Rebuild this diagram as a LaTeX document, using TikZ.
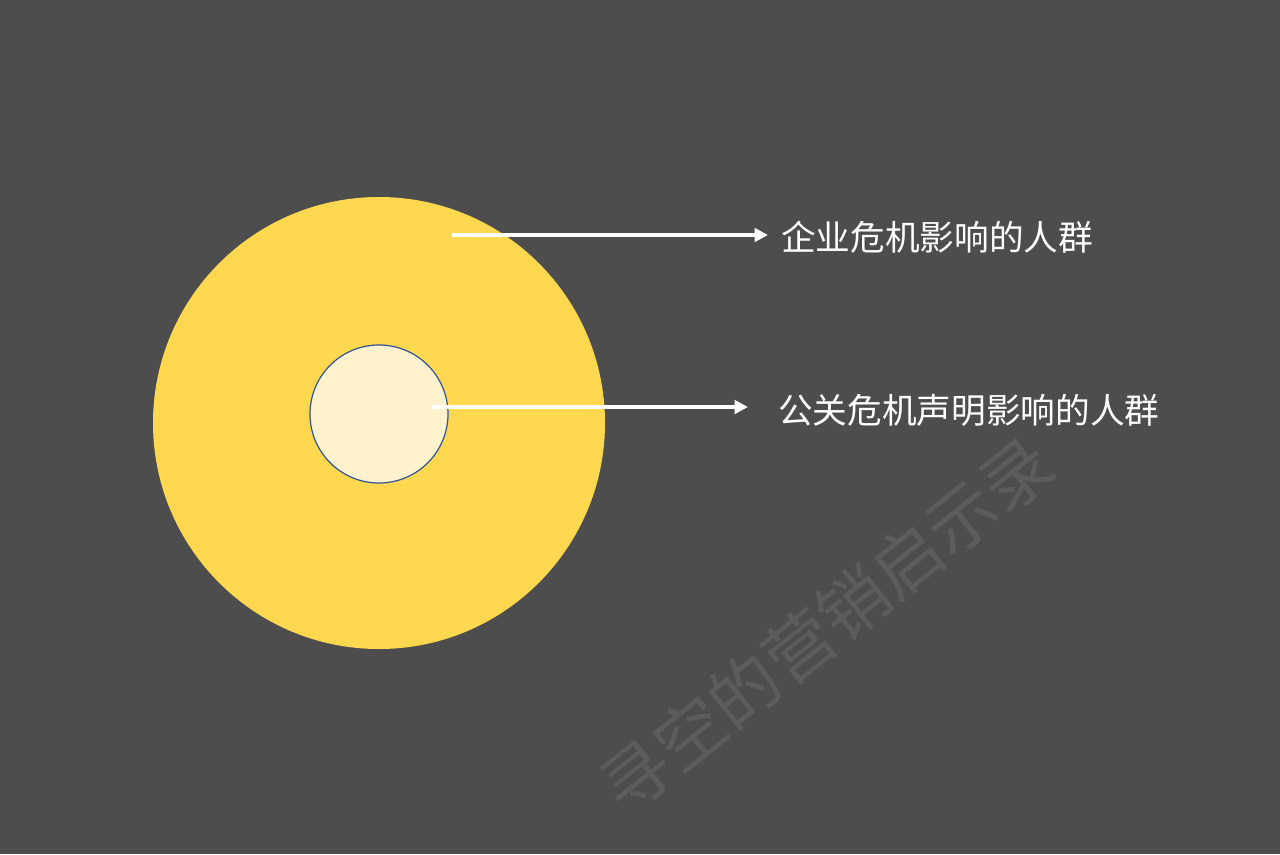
\documentclass[tikz,border=0pt]{standalone}
\usepackage{fontspec}
\newfontfamily\cjk{Noto Sans CJK SC}
\usetikzlibrary{arrows.meta}
\definecolor{bgc}{HTML}{4D4D4D}
\definecolor{yel}{HTML}{FFD84F}
\definecolor{pale}{HTML}{FFF2CC}
\definecolor{ring}{HTML}{2F5597}
\definecolor{wm}{HTML}{5C5C5C}
\tikzset{
  pointer/.style={draw=white, line width=3pt, -{Triangle[length=10pt,width=10pt]}},
  lbl/.style={anchor=west, text=white, font=\cjk\fontsize{26pt}{30pt}\selectfont, inner sep=0pt},
}
\begin{document}
\begin{tikzpicture}[x=0.75pt,y=-0.75pt]
\fill[bgc] (0,0) rectangle (1280,854);
\useasboundingbox (0,0) rectangle (1280,854);
\node[text=wm, font=\cjk\fontsize{52pt}{58pt}\selectfont, rotate=38.5, inner sep=0pt] (wmark) at (826,625) {寻空的营销启示录};
\node[circle, fill=yel, minimum size=452*0.75pt, inner sep=0pt] (outer) at (379,423) {};
\node[circle, fill=pale, draw=ring, line width=0.9pt, minimum size=138*0.75pt, inner sep=0pt] (inner) at (379,414) {};
\coordinate (s1) at (452,235);
\coordinate (s2) at (432,407);
\node[lbl] (t1) at (781,237) {企业危机影响的人群};
\node[lbl] (t2) at (778,410) {公关危机声明影响的人群};
\coordinate (e1) at (768,235);
\coordinate (e2) at (748,407);
\draw[pointer] (s1) -- (e1);
\draw[pointer] (s2) -- (e2);
\end{tikzpicture}
\end{document}
